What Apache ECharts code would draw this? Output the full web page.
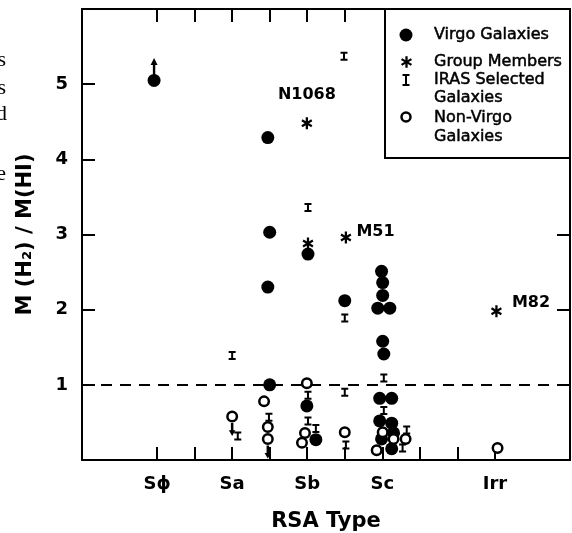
<!DOCTYPE html>
<html>
<head>
<meta charset="utf-8">
<script src="https://cdn.jsdelivr.net/npm/echarts@6/dist/echarts.min.js"></script>
<style>html,body{margin:0;padding:0;background:#fff}#c{width:572px;height:533px}</style>
</head>
<body>
<div id="c"></div>
<script>
// ---- data (x: RSA type scale, Sphi=0 ... Irr=9 ; y: M(H2)/M(HI)) ----
const xTickValues = [0,1,2,3,4,5,6,7,8,9];
const topTickValues = [0,1,2,3,4,5];
const xLabelValues = [0,2,4,6,9];
const xLabelNames = ['S\u03D5','Sa','Sb','Sc','Irr'];
const yTickValues = [1,2,3,4,5];
const rightTickValues = [1,2,3];

const virgo = [
  [-0.08,5.05],[2.95,4.29],[3.0,3.03],[2.95,2.30],[3.0,1.0],
  [4.02,2.74],[3.99,0.72],[4.23,0.27],[5.0,2.12],
  [5.98,2.51],[6.01,2.36],[6.01,2.19],[5.88,2.02],[6.2,2.02],
  [6.01,1.58],[6.04,1.41],[5.93,0.82],[6.25,0.82],
  [5.93,0.52],[6.25,0.49],[6.3,0.36],[6.25,0.15],[5.98,0.28]
];
const groupMembers = [[3.99,4.48],[4.02,2.88],[5.03,2.96],[9.04,1.98]];
const groupNames = ['N1068','','M51','M82'];
const iras = [
  [4.98,5.37],[2.0,1.39],[4.02,3.36],[5.0,1.89],[5.0,0.9],
  [4.02,0.86],[4.02,0.52],[4.23,0.42],[5.03,0.2],[2.15,0.32],
  [2.98,0.57],[6.04,1.09],[6.04,0.66],[6.65,0.4],[6.54,0.16]
];
const nonVirgo = [
  [2.0,0.58],[2.85,0.78],[2.95,0.44],[2.95,0.28],[3.99,1.02],
  [3.94,0.36],[3.86,0.23],[5.0,0.37],[6.01,0.37],[5.85,0.13],
  [6.3,0.28],[6.62,0.28],[9.07,0.16]
];
const lowerLimits = [virgo[0]];
const upperLimits = [nonVirgo[0], nonVirgo[3]];
const refLevel = 1;

const legendNames = ['Virgo Galaxies','Group Members','IRAS Selected\nGalaxies','Non-Virgo\nGalaxies'];

// ---- symbols ----
const ASTERISK = 'path://M-1,-5L1,-5L1,5L-1,5Z M3.83,3.366L-4.83,-1.634L-3.83,-3.366L4.83,1.634Z M-4.83,1.634L3.83,-3.366L4.83,-1.634L-3.83,3.366Z';
const IBEAM = 'path://M0,0H7V2H4.5V7H7V9H0V7H2.5V2H0Z';
const UPARROW = 'path://M3.5,0L7,7H4.7V17H2.3V7H0Z';
const DOWNARROW = 'path://M2,0H4.5V8H6.5L3.25,14L0,8H2Z';

// legend glyph outlines (shape only)
const asterBars = [
  [[-1,-5],[1,-5],[1,5],[-1,5]],
  [[3.83,3.366],[-4.83,-1.634],[-3.83,-3.366],[4.83,1.634]],
  [[-4.83,1.634],[3.83,-3.366],[4.83,-1.634],[-3.83,3.366]]
];
const ibeamShape = [[0,0],[7,0],[7,2],[4.5,2],[4.5,10],[7,10],[7,12],[0,12],[0,10],[2.5,10],[2.5,2],[0,2]];
function place(pts, cx, cy, s) { return pts.map(p => [cx + p[0]*s, cy + p[1]*s]); }

const chart = echarts.init(document.getElementById('c'), null, {renderer:'canvas'});
const FONT = 'DejaVu Sans';
const INK = '#000';
const axisLine = {show:true, onZero:false, lineStyle:{color:INK, width:2}};
const LF = '16px "DejaVu Sans"';
const legendText = (t, y, va, lh) => ({type:'text', z:101, x:434, y:y,
  style:{text:t, font:LF, fill:INK, stroke:INK, lineWidth:0.5, verticalAlign:va, lineHeight:lh}});

const legendGraphics = [
  {type:'rect', z:100, shape:{x:385, y:9, width:185, height:149}, style:{fill:'#fff', stroke:INK, lineWidth:2}},
  {type:'circle', z:101, shape:{cx:406, cy:35, r:6.5}, style:{fill:INK}},
  {type:'circle', z:101, shape:{cx:406, cy:117, r:4.5}, style:{fill:'#fff', stroke:INK, lineWidth:2.5}},
  {type:'polygon', z:101, shape:{points:place(ibeamShape, 402.5, 74, 1)}, style:{fill:INK}},
  legendText(legendNames[0], 35, 'middle', 18),
  legendText(legendNames[1], 62, 'middle', 18),
  legendText(legendNames[2], 71, 'top', 18),
  legendText(legendNames[3], 108, 'top', 19),
  // fragments of surrounding page text at the left edge
  {type:'text', x:6, y:60, style:{text:'s', font:'22px "Liberation Serif"', fill:INK, align:'right', verticalAlign:'middle'}},
  {type:'text', x:6, y:88, style:{text:'s', font:'22px "Liberation Serif"', fill:INK, align:'right', verticalAlign:'middle'}},
  {type:'text', x:7, y:114, style:{text:'d', font:'22px "Liberation Serif"', fill:INK, align:'right', verticalAlign:'middle'}},
  {type:'text', x:6, y:174, style:{text:'e', font:'22px "Liberation Serif"', fill:INK, align:'right', verticalAlign:'middle'}}
];
asterBars.forEach(b => legendGraphics.push({type:'polygon', z:101, shape:{points:place(b, 406.5, 62, 1.15)}, style:{fill:INK}}));

const option = {
  backgroundColor:'#fff',
  animation:false,
  grid:{left:82, right:2, top:9, bottom:73, containLabel:false, outerBoundsMode:'none'},
  xAxis:[
    {type:'value', position:'bottom', min:-2, max:11, interval:1,
     axisLine:axisLine, splitLine:{show:false},
     axisTick:{show:true, inside:true, length:13, customValues:xTickValues, lineStyle:{color:INK, width:2}},
     axisLabel:{show:true, customValues:xLabelValues, margin:15, fontSize:18, fontWeight:'bold', fontFamily:FONT, color:INK,
       formatter:v => { const i = xLabelValues.indexOf(v); return i >= 0 ? xLabelNames[i] : ''; }},
     name:'RSA Type', nameLocation:'middle', nameGap:51,
     nameTextStyle:{fontSize:21, fontWeight:'bold', fontFamily:FONT, color:INK}},
    {type:'value', position:'top', min:-2, max:11, interval:1,
     axisLine:axisLine, splitLine:{show:false},
     axisTick:{show:true, inside:true, length:13, customValues:topTickValues, lineStyle:{color:INK, width:2}},
     axisLabel:{show:false}}
  ],
  yAxis:[
    {type:'value', position:'left', min:0, max:6, interval:1,
     axisLine:axisLine, splitLine:{show:false},
     axisTick:{show:true, inside:true, length:13, customValues:yTickValues, lineStyle:{color:INK, width:2}},
     axisLabel:{show:true, customValues:yTickValues, margin:14, fontSize:18, fontWeight:'bold', fontFamily:FONT, color:INK},
     name:'M (H\u2082) / M(HI)', nameLocation:'middle', nameGap:46, nameRotate:90,
     nameTextStyle:{fontSize:21, fontWeight:'bold', fontFamily:FONT, color:INK}},
    {type:'value', position:'right', min:0, max:6, interval:1,
     axisLine:axisLine, splitLine:{show:false},
     axisTick:{show:true, inside:true, length:13, customValues:rightTickValues, lineStyle:{color:INK, width:2}},
     axisLabel:{show:false}}
  ],
  series:[
    {name:'Virgo Galaxies', type:'scatter', symbol:'circle', symbolSize:13,
     itemStyle:{color:INK, opacity:1}, data:virgo, z:3,
     markLine:{silent:true, symbol:'none', label:{show:false},
       lineStyle:{color:INK, width:2, type:[11,8], opacity:1},
       data:[{yAxis:refLevel}]}},
    {name:'Lower limit', type:'scatter', symbol:UPARROW, symbolSize:[7,17], symbolOffset:[0,-14],
     itemStyle:{color:INK, opacity:1}, data:lowerLimits, z:3},
    {name:'Group Members', type:'scatter', symbol:ASTERISK, symbolSize:[11,12],
     itemStyle:{color:INK, opacity:1}, z:4,
     data:groupMembers.map((p,i) => ({value:p, name:groupNames[i]})),
     label:{show:true, formatter:'{b}', fontSize:16, fontWeight:'bold', fontFamily:FONT, color:INK, position:'right', distance:6}},
    {name:'Non-Virgo Galaxies', type:'scatter', symbol:'circle', symbolSize:9.5,
     itemStyle:{color:'#fff', borderColor:INK, borderWidth:2.5, opacity:1}, data:nonVirgo, z:5},
    {name:'Upper limit', type:'scatter', symbol:DOWNARROW, symbolSize:[6.5,13], symbolOffset:[0,13],
     itemStyle:{color:INK, opacity:1}, data:upperLimits, z:4},
    {name:'IRAS Selected Galaxies', type:'scatter', symbol:IBEAM, symbolSize:[7,9],
     itemStyle:{color:INK, opacity:1}, data:iras, z:6}
  ],
  graphic:legendGraphics
};
// label placements for the named group members
option.series[2].data[0].label = {position:'top', distance:14};
option.series[2].data[2].label = {position:'right', distance:5, offset:[0,-6]};
option.series[2].data[3].label = {position:'right', distance:10, offset:[0,-8]};
chart.setOption(option);
</script>
</body>
</html>
